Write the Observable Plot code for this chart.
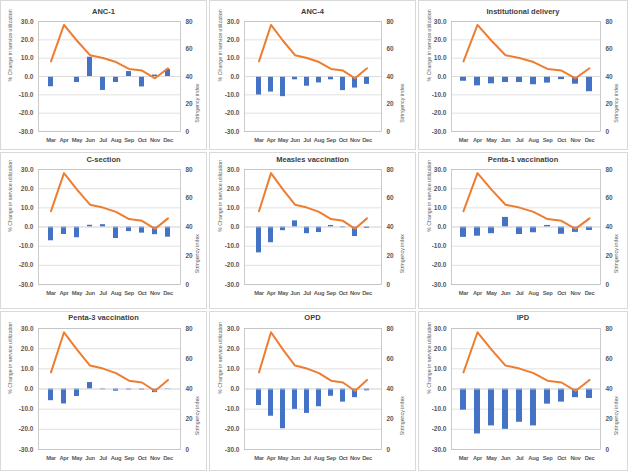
<!DOCTYPE html>
<html>
<head>
<meta charset="utf-8">
<script src="https://cdn.jsdelivr.net/npm/d3@7"></script>
<script src="https://cdn.jsdelivr.net/npm/@observablehq/plot@0.6"></script>
<style>
  html, body { margin: 0; padding: 0; background: #fff; }
  #root { position: relative; width: 628px; height: 471px; font-family: "Liberation Sans", Arial, sans-serif; }
  .panel { position: absolute; box-sizing: border-box; border: 1px solid #d9d9d9; background: #fff; }
  .title { position: absolute; left: 0; right: 0; text-align: center; font-size: 7.5px; font-weight: bold; color: #404040; line-height: 10px; }
  .panel svg { position: absolute; left: 0; top: 0; overflow: visible; }
  .panel svg g[aria-label="x-axis tick label"] text { letter-spacing: -0.3px; }
</style>
</head>
<body>
<div id="root"></div>
<script>
const months = ["Mar","Apr","May","Jun","Jul","Aug","Sep","Oct","Nov","Dec"];
const stringency = [51, 77.5, 66, 55.5, 53.5, 50.5, 45.5, 44.3, 38.7, 46];

const anc1 = [-5.6, 0, -3.3, 10.5, -7.6, -3.3, 2.7, -5.7, 0.8, 3.8];
const anc4 = [-10.1, -8.5, -11, -1.8, -5.3, -3.5, -1.8, -7.7, -6.3, -4.3];
const instDelivery = [-2.6, -5.1, -4, -3.3, -3.3, -4.5, -3.6, -1.7, -4.2, -8.3];
const cSection = [-7.2, -3.9, -5.6, 0.9, 1.2, -6, -2.4, -3.2, -4, -5.3];
const measles = [-13.5, -8.2, -1.9, 3.2, -3.5, -2.9, 0.8, -0.4, -5, -0.8];
const penta1 = [-5.4, -4.8, -3.5, 5, -3.9, -3, 0.8, -3.8, -2.8, -1.8];
const penta3 = [-5.8, -7.4, -3.7, 3.2, -0.4, -1.1, -0.5, -0.5, -1.8, -0.2];
const opd = [-8.2, -13.5, -19.7, -10.1, -12.1, -8.8, -3.6, -6.5, -4.3, -0.9];
const ipd = [-10.5, -22.3, -18.3, -20, -16.5, -18.3, -7.5, -6.5, -4.3, -4.7];

const titles = ["ANC-1","ANC-4","Institutional delivery","C-section","Measles vaccination","Penta-1 vaccination","Penta-3 vaccination","OPD","IPD"];
const seriesList = [anc1, anc4, instDelivery, cSection, measles, penta1, penta3, opd, ipd];

const leftTicks = [-30, -20, -10, 0, 10, 20, 30];
const rightTicks = [0, 20, 40, 60, 80];
const leftLabel = "% Change in service utilization";
const rightLabel = "Stringency index";

// layout geometry
const cols = [
  {x: 0, w: 207, pl: 37, pr: 179, lx: 9, rx: 196},
  {x: 209, w: 207, pl: 34, pr: 171, lx: 10, rx: 192},
  {x: 418, w: 210, pl: 32, pr: 181, lx: 10, rx: 197}
];
const rows = [
  {y: 0, h: 150, ty: 6, pt: 20, pb: 130},
  {y: 152, h: 157, ty: 2, pt: 16, pb: 131},
  {y: 311, h: 160, ty: 1, pt: 16, pb: 137}
];

// map stringency (0..80) onto the left scale (-30..30)
const toLeft = s => s * 0.75 - 30;

const root = document.getElementById("root");
const fontCss = {fontFamily: "'Liberation Sans', Arial, sans-serif", fontSize: "6.5px", fontWeight: "bold", color: "#595959", background: "transparent"};

seriesList.forEach((vals, i) => {
  const c = cols[i % 3], r = rows[Math.floor(i / 3)];
  const panel = document.createElement("div");
  panel.className = "panel";
  Object.assign(panel.style, {left: c.x + "px", top: r.y + "px", width: c.w + "px", height: r.h + "px"});
  const bars = months.map((m, k) => ({month: m, value: vals[k]}));
  const line = months.map((m, k) => ({month: m, s: toLeft(stringency[k])}));
  const svgH = r.pb + 16;
  const chart = Plot.plot({
    width: c.w - 2,
    height: svgH,
    marginTop: r.pt,
    marginBottom: 16,
    marginLeft: c.pl,
    marginRight: c.w - 2 - c.pr,
    style: fontCss,
    x: {type: "band", domain: months, padding: 0.58, label: null},
    y: {domain: [-30, 30], label: null},
    marks: [
      Plot.ruleY(leftTicks, {stroke: "#d9d9d9", strokeWidth: 0.8}),
      Plot.frame({stroke: "#bfbfbf", strokeWidth: 0.8}),
      Plot.barY(bars, {x: "month", y: "value", fill: "#4472C4"}),
      Plot.ruleY([0], {stroke: "#d9d9d9", strokeWidth: 0.8}),
      Plot.line(line, {x: "month", y: "s", stroke: "#ED7D31", strokeWidth: 2}),
      Plot.axisY({anchor: "left", ticks: leftTicks, tickFormat: d => d.toFixed(1), tickSize: 0, tickPadding: 5, label: null, fill: "#595959"}),
      Plot.axisY({anchor: "right", ticks: rightTicks.map(toLeft), tickFormat: d => String(Math.round((d + 30) / 0.75)), tickSize: 0, tickPadding: 5, label: null, fill: "#595959"}),
      Plot.axisX({anchor: "bottom", tickSize: 0, tickPadding: 6, label: null, fill: "#595959", fontSize: 5.8}),
      Plot.text([leftLabel], {frameAnchor: "left", dx: -(c.pl - c.lx), dy: 5, rotate: -90, text: d => d, fontSize: 5.3, fill: "#595959", fontWeight: "normal"}),
      Plot.text([rightLabel], {frameAnchor: "right", dx: c.rx - c.pr, dy: 7, rotate: -90, text: d => d, fontSize: 5.3, fill: "#595959", fontWeight: "normal"})
    ]
  });
  const t = document.createElement("div");
  t.className = "title";
  t.style.top = r.ty + "px";
  t.textContent = titles[i];
  panel.appendChild(chart);
  panel.appendChild(t);
  root.appendChild(panel);
});
</script>
</body>
</html>
